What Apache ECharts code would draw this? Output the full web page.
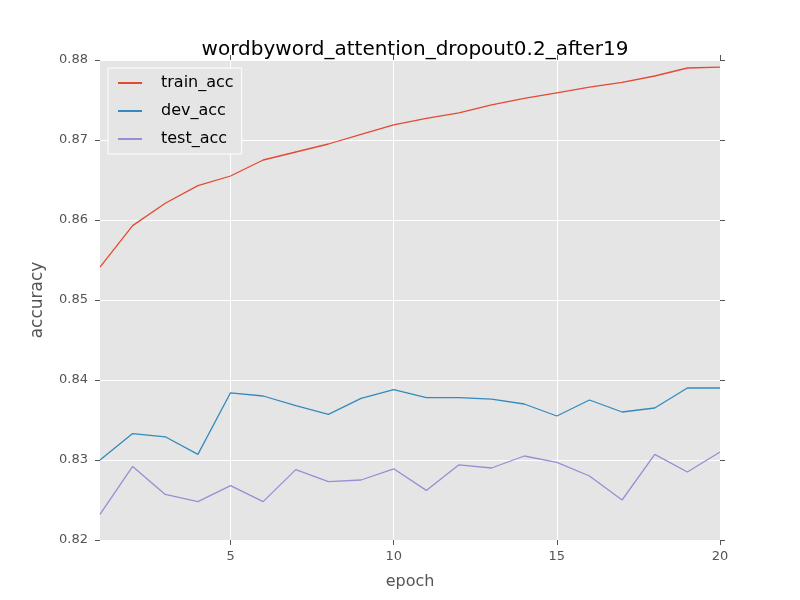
<!DOCTYPE html>
<html><head><meta charset="utf-8">
<script src="https://cdn.jsdelivr.net/npm/echarts@6/dist/echarts.min.js"></script>
<style>html,body{margin:0;padding:0;background:#fff}#c{width:800px;height:600px}</style>
</head><body><div id="c"></div>
<script>
const epochs = [1,2,3,4,5,6,7,8,9,10,11,12,13,14,15,16,17,18,19,20];
const trainAcc = [0.8541,0.8593,0.8621,0.8643,0.8655,0.8675,0.8685,0.8695,0.8707,0.8719,0.8727,0.8734,0.8744,0.8752,0.8759,0.8766,0.8772,0.8780,0.8790,0.8791];
const devAcc = [0.8300,0.8333,0.8329,0.8307,0.8384,0.8380,0.8368,0.8357,0.8377,0.8388,0.8378,0.8378,0.8376,0.8370,0.8355,0.8375,0.8360,0.8365,0.8390,0.8390];
const testAcc = [0.8232,0.8292,0.8257,0.8248,0.8268,0.8248,0.8288,0.8273,0.8275,0.8289,0.8262,0.8294,0.8290,0.8305,0.8297,0.8280,0.8250,0.8307,0.8285,0.8310];
const xTicks = [5,10,15,20];
const titleText = 'wordbyword_attention_dropout0.2_after19';

const font = 'DejaVu Sans';
const tickStyle = {show:true, inside:false, length:5, lineStyle:{color:'#555', width:1}};
const chart = echarts.init(document.getElementById('c'));
const pair = arr => arr.map((v,i)=>[epochs[i], v]);
chart.setOption({
  backgroundColor:'#fff',
  animation:false,
  title:{text:titleText, left:410, top:35, textAlign:'center',
    textStyle:{fontFamily:font, fontSize:20, fontWeight:'normal', color:'#000'}},
  grid:{left:100, right:80, top:60, bottom:60, show:true, backgroundColor:'#E5E5E5', borderWidth:0},
  legend:{orient:'vertical', left:108, top:68, backgroundColor:'#E5E5E5', borderColor:'#fff', borderWidth:1,
    padding:[6,8,6,10], itemWidth:24, itemHeight:2, itemGap:10, icon:'rect',
    textStyle:{fontFamily:font, fontSize:16, color:'#000', padding:[0,0,0,14], lineHeight:18},
    data:['train_acc','dev_acc','test_acc']},
  xAxis:[{type:'value', min:1, max:20, position:'bottom',
    name:'epoch', nameLocation:'middle', nameGap:34,
    nameTextStyle:{fontFamily:font, fontSize:16, color:'#555'},
    axisLine:{show:false},
    axisTick:Object.assign({customValues:xTicks}, tickStyle),
    axisLabel:{customValues:xTicks, fontFamily:font, fontSize:13, color:'#555', margin:10},
    splitLine:{show:true, lineStyle:{color:'#fff', width:1}}},
   {type:'value', min:1, max:20, position:'top',
    axisLine:{show:false},
    axisTick:Object.assign({customValues:xTicks}, tickStyle),
    axisLabel:{show:false}, splitLine:{show:false}}],
  yAxis:[{type:'value', min:0.82, max:0.88, interval:0.01, position:'left',
    name:'accuracy', nameLocation:'middle', nameGap:54,
    nameTextStyle:{fontFamily:font, fontSize:17, color:'#555'},
    axisLine:{show:false}, axisTick:tickStyle,
    axisLabel:{fontFamily:font, fontSize:13, color:'#555', margin:12, formatter:v=>v.toFixed(2)},
    splitLine:{show:true, lineStyle:{color:'#fff', width:1}}},
   {type:'value', min:0.82, max:0.88, interval:0.01, position:'right',
    axisLine:{show:false}, axisTick:tickStyle, axisLabel:{show:false}, splitLine:{show:false}}],
  series:[
    {name:'train_acc', type:'line', data:pair(trainAcc), symbol:'none', lineStyle:{color:'#E24A33', width:1.3}, itemStyle:{color:'#E24A33'}},
    {name:'dev_acc', type:'line', data:pair(devAcc), symbol:'none', lineStyle:{color:'#348ABD', width:1.3}, itemStyle:{color:'#348ABD'}},
    {name:'test_acc', type:'line', data:pair(testAcc), symbol:'none', lineStyle:{color:'#988ED5', width:1.3}, itemStyle:{color:'#988ED5'}}
  ]
});
</script></body></html>
